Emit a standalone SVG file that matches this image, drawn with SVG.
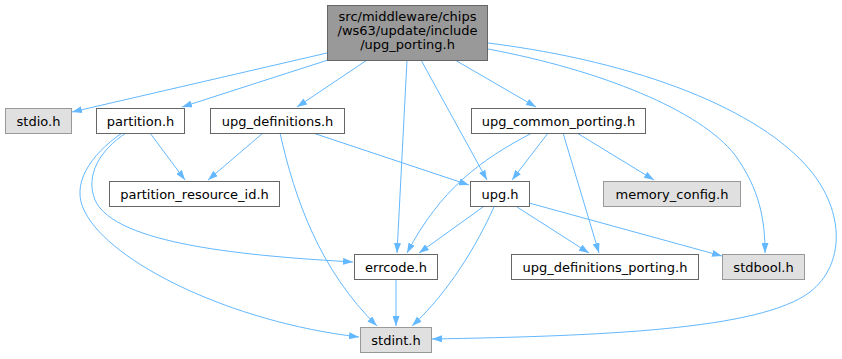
<svg xmlns="http://www.w3.org/2000/svg" width="842" height="359" viewBox="0 0 842 359">
<defs>
<marker id="ah" viewBox="0 0 10 7" refX="10" refY="3.5" markerWidth="10" markerHeight="7" markerUnits="userSpaceOnUse" orient="auto">
<path d="M0,0 L10,3.5 L0,7 z" fill="#63b8ff"/>
</marker>
<style>
.e{fill:none;stroke:#63b8ff;stroke-width:1;marker-end:url(#ah)}
.n rect{fill:#ffffff;stroke:#666666;stroke-width:1}
.g rect{fill:#e0e0e0;stroke:#999999;stroke-width:1}
.m rect{fill:#999999;stroke:#666666;stroke-width:1}
text{font-family:"DejaVu Sans",sans-serif;font-size:13px;fill:#000000;text-anchor:middle}
</style>
</defs>
<rect width="842" height="359" fill="#ffffff"/>
<g id="edges">
<path class="e" d="M327,53 L72,112"/>
<path class="e" d="M328,60 L182,107"/>
<path class="e" d="M367,60 L297,107"/>
<path class="e" d="M407,60 L397,253"/>
<path class="e" d="M421,60 L487,180"/>
<path class="e" d="M455,60 L536,107"/>
<path class="e" d="M488,49 C600,70 700,110 735,155 C760,190 765,220 765,253"/>
<path class="e" d="M488,43 C640,62 760,110 810,170 C845,212 845,265 810,292 C760,330 600,336 432,339"/>
<path class="e" d="M150,133 L185,180"/>
<path class="e" d="M126,133 C100,150 85,175 95,200 C115,245 250,256 353,262"/>
<path class="e" d="M122,133 C90,155 70,185 85,212 C110,262 230,322 359,337"/>
<path class="e" d="M263,133 L208,180"/>
<path class="e" d="M313,133 L469,185"/>
<path class="e" d="M280,133 C295,200 320,270 377,326"/>
<path class="e" d="M548,133 L512,180"/>
<path class="e" d="M532,133 C480,160 440,190 407,253"/>
<path class="e" d="M563,133 L599,253"/>
<path class="e" d="M577,133 L654,180"/>
<path class="e" d="M483,207 L419,253"/>
<path class="e" d="M494,207 C470,260 440,300 412,326"/>
<path class="e" d="M517,207 L589,253"/>
<path class="e" d="M529,203 L722,256"/>
<path class="e" d="M396,279 L396,326"/>
</g>
<g id="upg_porting" class="m"><rect x="327.5" y="5.5" width="160" height="55"/>
<text x="407.5" y="21">src/middleware/chips</text><text x="407.5" y="35">/ws63/update/include</text><text x="407.5" y="49">/upg_porting.h</text></g>
<g id="stdio" class="g"><rect x="5.5" y="108.5" width="66" height="25"/><text x="38.5" y="126">stdio.h</text></g>
<g id="partition" class="n"><rect x="96.5" y="108.5" width="88" height="25"/><text x="140.5" y="126">partition.h</text></g>
<g id="upg_definitions" class="n"><rect x="210.5" y="108.5" width="134" height="25"/><text x="277.5" y="126">upg_definitions.h</text></g>
<g id="upg_common_porting" class="n"><rect x="471.5" y="108.5" width="174" height="25"/><text x="558.5" y="126">upg_common_porting.h</text></g>
<g id="partition_resource_id" class="n"><rect x="109.5" y="181.5" width="170" height="25"/><text x="194.5" y="199">partition_resource_id.h</text></g>
<g id="upg" class="n"><rect x="470.5" y="181.5" width="59" height="25"/><text x="500" y="199">upg.h</text></g>
<g id="memory_config" class="g"><rect x="603.5" y="181.5" width="137" height="25"/><text x="672" y="199">memory_config.h</text></g>
<g id="errcode" class="n"><rect x="354.5" y="254.5" width="83" height="25"/><text x="396" y="272">errcode.h</text></g>
<g id="upg_definitions_porting" class="n"><rect x="511.5" y="254.5" width="187" height="25"/><text x="605" y="272">upg_definitions_porting.h</text></g>
<g id="stdbool" class="g"><rect x="722.5" y="254.5" width="82" height="25"/><text x="763.5" y="272">stdbool.h</text></g>
<g id="stdint" class="g"><rect x="360.5" y="327.5" width="71" height="25"/><text x="396" y="345">stdint.h</text></g>
</svg>
